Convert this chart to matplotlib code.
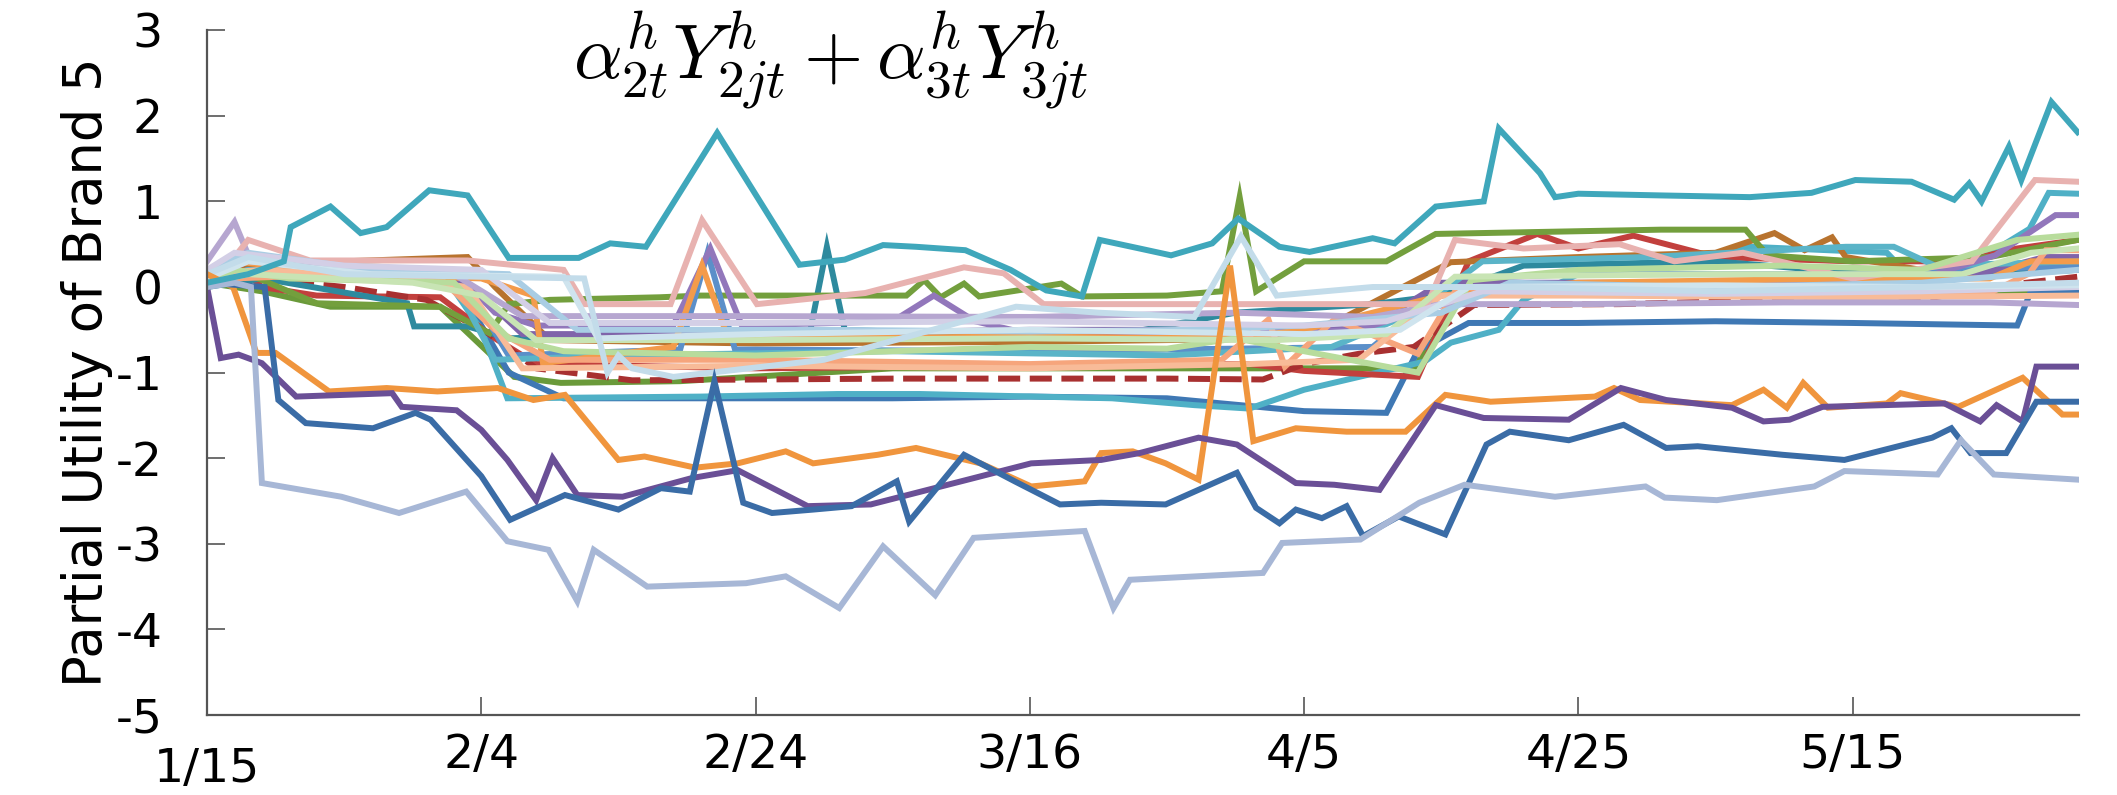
import matplotlib
matplotlib.use("Agg")
import matplotlib.pyplot as plt
import matplotlib.transforms as mtransforms

# ---------------------------------------------------------------------------
# Data: days since 1/15 and the partial utility
# ---------------------------------------------------------------------------
TICK_DAYS = [0, 20, 40, 60, 80, 100, 120]
TICK_LABELS = ["1/15", "2/4", "2/24", "3/16", "4/5", "4/25", "5/15"]
Y_TICKS = [-5, -4, -3, -2, -1, 0, 1, 2, 3]

# the bulk of households, drawn first
PINK_D = [0, 2, 3, 7.5, 19, 26, 27.5, 33.8, 36.1, 40.1, 48, 55.2, 58.1, 61, 89, 91, 96, 103, 107, 112, 120, 128.7, 133.3, 136.4]
PINK_V = [0.2, 0.35, 0.55, 0.31, 0.31, 0.2, -0.2, -0.2, 0.78, -0.2, -0.07, 0.23, 0.16, -0.2, -0.2, 0.55, 0.45, 0.5, 0.3, 0.4, 0.1, 0.3, 1.25, 1.23]

LTEAL_D = [0, 3, 6, 17, 20, 21.9, 36, 46, 52, 66, 72, 76, 80, 88.8, 90.7, 94.2, 96, 100, 107, 112.5, 122.5, 124, 128, 132.9, 134.3, 136.4]
LTEAL_V = [0.0, 0.3, 0.25, 0.2, -0.5, -1.3, -1.28, -1.25, -1.25, -1.3, -1.38, -1.42, -1.2, -0.87, -0.65, -0.5, -0.15, 0.15, 0.3, 0.47, 0.4, 0.15, 0.2, 0.68, 1.1, 1.09]

MPURPLE_D = [0, 3, 8, 18, 21, 24, 34, 36.7, 39, 50, 53, 56, 60, 75, 84, 88, 95, 110, 125, 130.4, 134.8, 136.4]
MPURPLE_V = [0.1, 0.3, 0.2, 0.2, -0.3, -0.45, -0.45, 0.45, -0.45, -0.4, -0.1, -0.4, -0.55, -0.55, -0.5, -0.3, 0.0, 0.05, 0.1, 0.37, 0.84, 0.84]

LGREEN_D = [0, 2, 6, 18, 22, 26, 40, 60, 70, 75, 80, 88.3, 92.2, 100, 115, 125, 132, 136.4]
LGREEN_V = [0.0, 0.2, 0.1, 0.05, -0.6, -0.75, -0.8, -0.7, -0.72, -0.6, -0.75, -1.0, 0.08, 0.2, 0.25, 0.2, 0.55, 0.61]

RED_D = [0, 2, 4, 8, 17, 21, 24, 40, 60, 76, 80, 88.3, 92, 97, 100, 104, 110, 120, 128, 132, 136.4]
RED_V = [0.1, 0.3, 0.0, -0.1, -0.12, -0.6, -0.9, -0.95, -0.92, -0.9, -0.98, -1.05, 0.3, 0.62, 0.45, 0.6, 0.35, 0.3, 0.3, 0.45, 0.55]

DRED_D = [0, 1.9, 4, 10, 16, 20.5, 24, 31, 50, 70, 77, 80, 84, 88, 92.4, 103, 115, 125, 130, 136.4]
DRED_V = [0.1, 0.3, 0.1, 0.0, -0.15, -0.54, -0.95, -1.09, -1.07, -1.07, -1.08, -0.9, -0.78, -0.7, -0.21, -0.2, -0.15, -0.15, 0.0, 0.12]

BROWN_D = [0, 3, 10, 19, 21, 25, 40, 60, 80, 86, 90.7, 100, 110, 114.3, 116.5, 118.5, 119.5, 125, 136.4]
BROWN_V = [0.05, 0.25, 0.3, 0.35, 0.0, -0.62, -0.66, -0.64, -0.6, -0.1, 0.29, 0.35, 0.4, 0.63, 0.43, 0.58, 0.35, 0.2, 0.3]

SALMON_D = [0, 2, 10, 17, 21, 25, 40, 60, 74, 77.4, 78.6, 82.2, 88.3, 91.2, 100, 115, 130, 132.9, 134.1, 136.4]
SALMON_V = [0.2, 0.1, 0.15, 0.1, -0.5, -0.85, -0.85, -0.9, -0.85, -0.38, -0.93, -0.38, -0.78, 0.0, -0.08, -0.07, -0.07, 0.16, 0.43, 0.43]

LPURPLE_D = [0, 2, 3.2, 10, 18, 23, 40, 60, 75, 85, 90, 100, 115, 130, 136.4]
LPURPLE_V = [0.3, 0.76, 0.3, 0.2, 0.15, -0.34, -0.34, -0.35, -0.3, -0.35, -0.2, -0.2, -0.18, -0.18, -0.21]

GREEN1_D = [0, 3, 8, 17, 20.6, 22, 25, 33, 36, 42, 51, 52.3, 53.5, 55.2, 56.3, 62.3, 63.8, 70, 74, 75.3, 76.5, 80, 86, 89.6, 106, 112.2, 113.8, 120, 130, 136.4]
GREEN1_V = [0.0, 0.15, -0.19, -0.23, -0.54, -0.2, -0.15, -0.12, -0.1, -0.1, -0.1, 0.08, -0.12, 0.04, -0.11, 0.04, -0.11, -0.1, -0.05, 1.05, -0.05, 0.3, 0.3, 0.62, 0.67, 0.67, 0.37, 0.3, 0.35, 0.55]

GREEN2_D = [0, 4, 9, 17, 22.4, 25.8, 34.5, 50, 70, 76, 80, 88, 92, 100, 120, 136.4]
GREEN2_V = [0.05, -0.05, -0.23, -0.23, -1.05, -1.12, -1.1, -0.95, -0.95, -0.95, -0.95, -0.95, 0.0, -0.05, -0.07, -0.07]

DTEAL_D = [0, 4, 14.6, 15.1, 19, 22, 30, 44, 45.2, 46.5, 55, 65, 75, 85, 90, 96, 110, 125, 136.4]
DTEAL_V = [0.0, 0.1, -0.19, -0.46, -0.46, -0.6, -0.55, -0.5, 0.47, -0.5, -0.55, -0.6, -0.3, -0.2, -0.1, 0.25, 0.3, 0.1, 0.2]

BLUE2_D = [0, 3, 10, 18, 22, 26, 40, 50, 60, 70, 80, 86, 88.3, 92, 100, 110, 120, 132, 133, 136.4]
BLUE2_V = [0.1, 0.3, 0.2, 0.1, -1.0, -1.3, -1.3, -1.3, -1.28, -1.3, -1.45, -1.47, -0.74, -0.42, -0.42, -0.4, -0.42, -0.45, -0.05, -0.05]

SKY_D = [0, 3, 12, 22, 27, 45, 60, 72, 80, 90, 95, 110, 125, 136.4]
SKY_V = [0.2, 0.4, 0.2, 0.15, -0.5, -0.5, -0.52, -0.5, -0.45, -0.3, 0.05, 0.0, 0.05, 0.2]

ORANGE2_D = [0, 2, 10, 20, 23.8, 24.5, 34, 36.1, 38, 60, 75, 80, 90, 100, 120, 130, 133, 136.4]
ORANGE2_V = [0.15, 0.3, 0.15, 0.1, -0.1, -0.89, -0.7, 0.25, -0.6, -0.58, -0.6, -0.5, -0.1, 0.05, 0.1, 0.1, 0.3, 0.3]

MBLUE_D = [0, 3, 15, 19, 22, 34.5, 36.5, 38.5, 60, 85, 91, 100, 120, 136.4]
MBLUE_V = [0.05, 0.2, 0.1, 0.0, -0.8, -0.73, 0.4, -0.73, -0.75, -0.7, 0.1, 0.15, 0.15, 0.25]

LBLUE_D = [0, 3, 10, 20, 27.5, 29.2, 30, 31, 34, 45, 59, 65, 72, 75.4, 78, 85, 95, 110, 125, 136.4]
LBLUE_V = [0.15, 0.35, 0.15, 0.12, 0.1, -1.0, -0.8, -0.95, -1.05, -0.85, -0.23, -0.3, -0.35, 0.59, -0.1, 0.0, 0.0, -0.05, 0.0, 0.05]

PALE1_D = [0, 3, 12, 26, 28.5, 40, 60, 80, 87, 92, 110, 125, 136.4]
PALE1_V = [0.1, 0.3, 0.15, 0.12, -0.6, -0.55, -0.5, -0.55, -0.5, 0.0, 0.02, 0.0, 0.02]

PALE2_D = [0, 2, 10, 20, 25, 40, 60, 80, 86, 93, 110, 125, 136.4]
PALE2_V = [0.2, 0.4, 0.25, 0.2, -0.42, -0.42, -0.4, -0.45, -0.4, -0.05, -0.08, -0.05, 0.0]

LGREEN2_D = [0, 3, 15, 20, 24, 40, 60, 78, 86, 91, 110, 128, 133, 136.4]
LGREEN2_V = [0.05, 0.15, 0.05, -0.1, -0.62, -0.62, -0.6, -0.62, -0.55, 0.12, 0.15, 0.15, 0.4, 0.45]

PEACH_D = [0, 4, 14, 19, 23, 40, 60, 76, 84, 90, 100, 120, 136.4]
PEACH_V = [0.15, 0.2, 0.1, 0.0, -0.95, -0.92, -0.95, -0.9, -0.85, -0.1, -0.1, -0.12, -0.1]

TEAL3_D = [0, 3, 10, 18, 21, 30, 50, 70, 82, 88, 93, 105, 119.5, 123, 126, 136.4]
TEAL3_V = [0.05, 0.2, 0.15, 0.05, -0.85, -0.8, -0.75, -0.8, -0.7, -0.3, 0.3, 0.35, 0.47, 0.47, 0.25, 0.3]

PURPLE3_D = [0, 3, 12, 19, 23, 40, 60, 80, 85, 90, 110, 128, 134, 136.4]
PURPLE3_V = [0.0, 0.2, 0.1, 0.05, -0.55, -0.55, -0.5, -0.5, -0.45, 0.05, 0.05, 0.1, 0.35, 0.35]

# the households that stand out
TEAL_D = [0, 3, 5.6, 6.1, 9.0, 11.2, 13.1, 16.2, 19.0, 22.0, 27.1, 29.4, 32.0, 37.2, 43.2, 46.5, 49.3, 51.7, 55.3, 58.6,
          61.2, 63.8, 65.1, 68.0, 70.3, 73.3, 75.2, 78.2, 80.4, 85.0, 86.6, 89.6, 93.1, 94.2, 97.2, 98.3, 100, 106, 112.5, 117,
          120.2, 124.3, 127.4, 128.5, 129.4, 131.4, 132.3, 134.5, 136.4]
TEAL_V = [0.05, 0.15, 0.3, 0.70, 0.94, 0.63, 0.70, 1.13, 1.07, 0.34, 0.34, 0.51, 0.47, 1.80, 0.26, 0.32, 0.49, 0.47, 0.43, 0.20,
          -0.04, -0.11, 0.55, 0.45, 0.37, 0.51, 0.80, 0.47, 0.41, 0.57, 0.51, 0.94, 1.0, 1.85, 1.33, 1.05, 1.09, 1.07, 1.05, 1.10,
          1.25, 1.23, 1.02, 1.21, 1.0, 1.64, 1.25, 2.16, 1.81]

DBLUE_D = [0, 4.2, 5.2, 7.2, 12.1, 15.2, 16.3, 20, 22.1, 26.1, 30, 33.1, 35.2, 37, 39.1, 41.2, 44.2, 47, 50.3, 51.2,
           55.2, 58.9, 62.2, 65.2, 69.9, 75.1, 76.5, 78.2, 79.4, 81.3, 83.1, 84.3, 86.9, 90.3, 93.3, 95, 99.3, 103.3, 106.4, 108.7,
           114.9, 119.4, 125.8, 127.2, 128.6, 131.2, 133.4, 136.4]
DBLUE_V = [0.05, 0.0, -1.32, -1.59, -1.65, -1.47, -1.55, -2.21, -2.72, -2.43, -2.60, -2.35, -2.39, -1.10, -2.52, -2.64, -2.60, -2.56, -2.27, -2.74,
           -1.96, -2.27, -2.54, -2.52, -2.54, -2.17, -2.58, -2.76, -2.60, -2.70, -2.56, -2.91, -2.68, -2.89, -1.84, -1.69, -1.79, -1.61, -1.88, -1.86,
           -1.96, -2.02, -1.76, -1.65, -1.94, -1.94, -1.34, -1.34]

PURPLE_D = [0, 1, 2.3, 4, 6.5, 13.5, 14.2, 18.2, 20, 21.9, 24, 25.2, 27, 30.3, 35.4, 38.7, 43.8, 48.4, 54.5, 60.1,
            65.2, 68, 72.3, 75.1, 79.4, 82.2, 85.5, 89.6, 93.1, 99.3, 103.1, 106.4, 111.2, 113.5, 115.4, 117.8, 126.7, 129.3, 130.5, 132.4,
            133.4, 136.4]
PURPLE_V = [0, -0.83, -0.79, -0.89, -1.28, -1.24, -1.40, -1.44, -1.67, -2.02, -2.49, -2.00, -2.43, -2.45, -2.23, -2.14, -2.56, -2.54, -2.29, -2.06,
            -2.02, -1.94, -1.76, -1.84, -2.29, -2.31, -2.37, -1.38, -1.53, -1.55, -1.18, -1.32, -1.41, -1.57, -1.55, -1.40, -1.36, -1.57, -1.38, -1.57,
            -0.93, -0.93]

ORANGE_D = [0, 1.9, 3.6, 5, 8.9, 13.1, 16.8, 21.2, 23.8, 26.1, 30, 31.9, 35.6, 38.7, 42.2, 44.2, 48.9, 51.7, 56.4, 60.1,
            64, 65.2, 67.5, 69.9, 72.3, 74.6, 76.3, 79.4, 83.1, 87.4, 90.3, 93.6, 101.2, 102.6, 104.5, 111.2, 113.5, 115.2, 116.4, 118.2,
            122.5, 123.5, 127.7, 132.4, 135.3, 136.4]
ORANGE_V = [0.15, 0.0, -0.77, -0.77, -1.22, -1.18, -1.22, -1.18, -1.32, -1.26, -2.02, -1.98, -2.11, -2.06, -1.92, -2.06, -1.96, -1.88, -2.06, -2.33,
            -2.27, -1.94, -1.92, -2.06, -2.25, 0.25, -1.80, -1.65, -1.69, -1.69, -1.26, -1.34, -1.28, -1.18, -1.32, -1.38, -1.20, -1.41, -1.12, -1.41,
            -1.36, -1.24, -1.40, -1.06, -1.49, -1.49]

GREYBLUE_D = [0, 2, 3.2, 4.0, 9.8, 14, 18.9, 21.9, 24.9, 27, 28.2, 32.1, 39.3, 42.2, 46.1, 49.3, 53.1, 55.9, 64, 66.1,
              67.3, 77, 78.4, 84.1, 88.4, 91.7, 98.3, 104.9, 106.3, 110.1, 117.2, 119.4, 126.2, 127.9, 130.3, 136.4]
GREYBLUE_V = [0.0, 0.05, 0.0, -2.29, -2.45, -2.64, -2.39, -2.97, -3.07, -3.67, -3.07, -3.50, -3.46, -3.38, -3.75, -3.03, -3.60, -2.93, -2.85, -3.75,
              -3.42, -3.34, -2.99, -2.95, -2.52, -2.31, -2.45, -2.33, -2.46, -2.49, -2.33, -2.15, -2.19, -1.79, -2.19, -2.25]

# (days, values, colour, linestyle) in drawing order
SERIES = [
    (GREEN2_D, GREEN2_V, "#6a9a3a", "-"),
    (BLUE2_D, BLUE2_V, "#3f78b4", "-"),
    (LTEAL_D, LTEAL_V, "#4fb0c6", "-"),
    (RED_D, RED_V, "#c2403d", "-"),
    (DRED_D, DRED_V, "#a83030", "--"),
    (BROWN_D, BROWN_V, "#b8732e", "-"),
    (DTEAL_D, DTEAL_V, "#2e8a9e", "-"),
    (GREEN1_D, GREEN1_V, "#739f3d", "-"),
    (MBLUE_D, MBLUE_V, "#5b8fc9", "-"),
    (PURPLE3_D, PURPLE3_V, "#8064aa", "-"),
    (TEAL3_D, TEAL3_V, "#5ab4c8", "-"),
    (MPURPLE_D, MPURPLE_V, "#9277bb", "-"),
    (ORANGE2_D, ORANGE2_V, "#f39b4b", "-"),
    (SALMON_D, SALMON_V, "#f6a57c", "-"),
    (PEACH_D, PEACH_V, "#f8bb98", "-"),
    (LPURPLE_D, LPURPLE_V, "#b6a6d0", "-"),
    (PINK_D, PINK_V, "#e8b2b0", "-"),
    (LGREEN_D, LGREEN_V, "#b8dc9c", "-"),
    (LGREEN2_D, LGREEN2_V, "#c8e4b4", "-"),
    (SKY_D, SKY_V, "#a9cde4", "-"),
    (PALE2_D, PALE2_V, "#d3cfe6", "-"),
    (PALE1_D, PALE1_V, "#cfe4ee", "-"),
    (LBLUE_D, LBLUE_V, "#c3dcea", "-"),
    (ORANGE_D, ORANGE_V, "#f0953d", "-"),
    (PURPLE_D, PURPLE_V, "#6a4f96", "-"),
    (DBLUE_D, DBLUE_V, "#3a6ca6", "-"),
    (GREYBLUE_D, GREYBLUE_V, "#a7b7d6", "-"),
    (TEAL_D, TEAL_V, "#3fa7bb", "-"),
]

# ---------------------------------------------------------------------------
# Plot
# ---------------------------------------------------------------------------
plt.rcParams["font.family"] = ["DejaVu Sans"]

fig = plt.figure(figsize=(21.17, 7.95), dpi=100)
ax = fig.add_axes([0.0978, 0.1006, 0.8842, 0.8614])

for days, vals, color, ls in SERIES:
    ax.plot(days, vals, color=color, linestyle=ls, linewidth=4.3,
            solid_joinstyle="miter", dash_capstyle="butt")

ax.set_xlim(0, 136.5)
ax.set_ylim(-5, 3)
ax.set_yticks(Y_TICKS)
ax.set_yticklabels([str(v) for v in Y_TICKS])
ax.set_xticks(TICK_DAYS)
ax.set_xticklabels(TICK_LABELS)

for side in ("top", "right"):
    ax.spines[side].set_visible(False)
for side in ("left", "bottom"):
    ax.spines[side].set_color("#555555")
    ax.spines[side].set_linewidth(1.6)

ax.tick_params(axis="both", direction="in", length=13, width=1.2, color="#555555",
               labelsize=34)
ax.tick_params(axis="y", pad=32)
ax.tick_params(axis="x", pad=13)

# the first date label sits a little lower in the original
lbl = ax.get_xticklabels()[0]
lbl.set_transform(lbl.get_transform() + mtransforms.ScaledTranslation(0, -10 / 72, fig.dpi_scale_trans))

ax.set_ylabel("Partial Utility of Brand 5", fontsize=38, labelpad=2)

ax.text(0.333, 0.955, r"$\alpha^h_{2t}Y^h_{2jt}+\alpha^h_{3t}Y^h_{3jt}$",
        transform=ax.transAxes, ha="center", va="center", fontsize=55,
        math_fontfamily="cm")

fig.savefig("out.png", dpi=100)
